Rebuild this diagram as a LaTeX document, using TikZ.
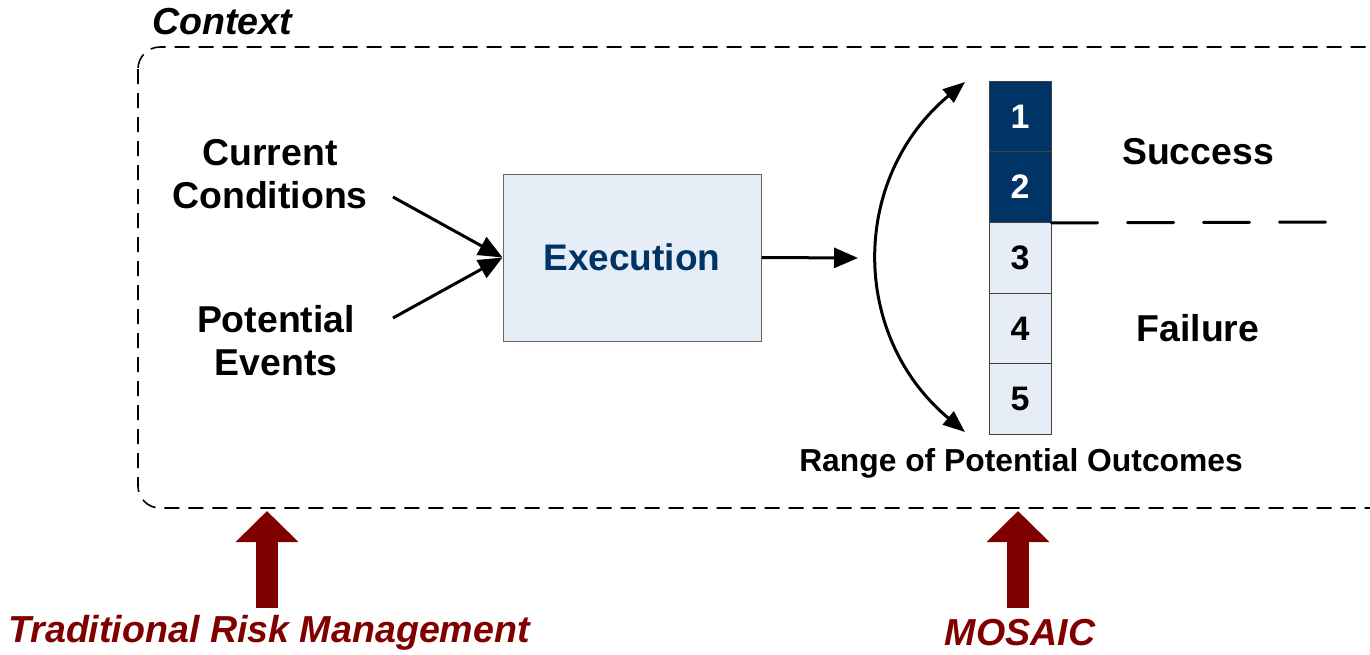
\documentclass[tikz,border=0pt]{standalone}
\usepackage{fontspec}
\setmainfont{Liberation Sans}
\usetikzlibrary{arrows.meta}
\definecolor{navy}{HTML}{003366}
\definecolor{paleblue}{HTML}{E6EDF7}
\definecolor{darkred}{HTML}{800000}

\begin{document}
\begin{tikzpicture}[x=1pt,y=-1pt,
  lbl/.style={font=\fontsize{37.4}{43}\selectfont\bfseries, align=center, inner sep=0pt},
  numlbl/.style={font=\fontsize{34}{40}\selectfont\bfseries},
  cell/.style={draw=black!75, line width=1pt, minimum width=62pt, minimum height=70.6pt, inner sep=0pt},
  darkcell/.style={cell, fill=navy, text=white},
  lightcell/.style={cell, fill=paleblue, text=black},
  flow/.style={line width=3pt, -{Triangle[length=24pt,width=20pt]}},
  spread/.style={line width=3pt, {Triangle[length=22pt,width=17pt]}-{Triangle[length=22pt,width=17pt]}},
  uparrow/.style={darkred, line width=22pt, -{Triangle[length=31pt,width=61pt]}},
  redlbl/.style={font=\fontsize{37.6}{43}\selectfont\bfseries\itshape, text=darkred, inner sep=0pt}
]
\useasboundingbox (0,0) rectangle (1370,654);

% surrounding context frame (runs past the right edge)
\draw[line width=1.6pt, dash pattern=on 15pt off 9pt, rounded corners=22pt]
  (138,47) rectangle (1420,508);
\node[font=\fontsize{37.6}{43}\selectfont\bfseries\itshape, inner sep=0pt] (ctx) at (222,22) {Context};

% inputs
\node[lbl] (cond) at (270,174) {Current\\Conditions};
\node[lbl] (events) at (276,341) {Potential\\Events};
\coordinate (condEnd) at (393,197);
\coordinate (eventsEnd) at (393,318);

% execution block
\node[draw=black!60, line width=1pt, fill=paleblue, minimum width=258pt, minimum height=167pt,
      font=\fontsize{37}{43}\selectfont\bfseries, text=navy] (exec) at (632,257.5) {Execution};

\draw[flow] (condEnd) -- (exec.west);
\draw[flow] (eventsEnd) -- (exec.west);

\coordinate (spreadIn) at (858,258);
\draw[flow] (exec.east) -- (spreadIn);

% outcome stack
\node[darkcell, numlbl] (o1) at (1020,116.5) {1};
\node[darkcell, numlbl] (o2) at (1020,187.1) {2};
\node[lightcell, numlbl] (o3) at (1020,257.7) {3};
\node[lightcell, numlbl] (o4) at (1020,328.3) {4};
\node[lightcell, numlbl] (o5) at (1020,398.9) {5};

% spread of outcomes
\coordinate (sTop) at (965,82);
\coordinate (sBot) at (965,432);
\draw[spread] (sTop) .. controls (850,178) and (850,336) .. (sBot);

% success / failure threshold
\coordinate (thrEnd) at (1330,222);
\draw[line width=3pt, line cap=round, dash pattern=on 46pt off 30pt] (o2.south east) -- (thrEnd);

\node[lbl] (succ) at (1198,152) {Success};
\node[lbl] (fail) at (1198,328) {Failure};
\node[font=\fontsize{31.8}{36}\selectfont\bfseries, inner sep=0pt] (range) at (1021,463) {Range of Potential Outcomes};

% perspectives
\node[redlbl] (trad) at (269,633) {Traditional Risk Management};
\node[redlbl] (mosaic) at (1020,633) {MOSAIC};
\coordinate (tradBase) at (267,608);
\coordinate (tradTip) at (267,511);
\coordinate (mosBase) at (1018,608);
\coordinate (mosTip) at (1018,511);
\draw[uparrow] (tradBase) -- (tradTip);
\draw[uparrow] (mosBase) -- (mosTip);
\end{tikzpicture}
\end{document}
